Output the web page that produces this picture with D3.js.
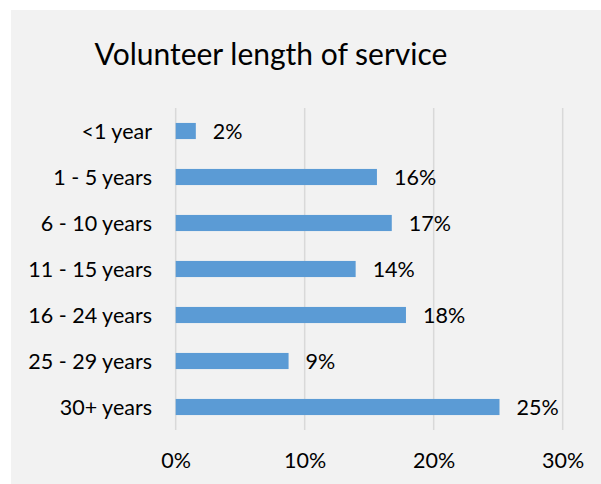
<!DOCTYPE html>
<html>
<head>
<meta charset="utf-8">
<script src="https://cdn.jsdelivr.net/npm/d3@7"></script>
<style>
  html, body { margin: 0; padding: 0; background: #ffffff; }
  svg { display: block; }
  text { font-family: Lato, "Open Sans", sans-serif; fill: #000000; }
</style>
</head>
<body>
<svg id="chart" width="601" height="484"></svg>
<script>
// Share of volunteers by length of service
const categories = ["<1 year", "1 - 5 years", "6 - 10 years", "11 - 15 years", "16 - 24 years", "25 - 29 years", "30+ years"];
const shares = [0.0156, 0.156, 0.1675, 0.1395, 0.1785, 0.0875, 0.251];
const tickValues = [0, 0.1, 0.2, 0.3];
const titleText = "Volunteer length of service";

const svg = d3.select("#chart");
const W = 601, H = 484;
const labelSize = "21.5px";

// chart panel
svg.append("rect")
  .attr("x", 11).attr("y", 10)
  .attr("width", W - 11).attr("height", H - 10)
  .attr("fill", "#f2f2f2");

const x = d3.scaleLinear().domain([0, 0.3]).range([175.7, 562.7]);
const y = d3.scaleBand().domain(categories).range([108, 430])
  .paddingInner(0.65).paddingOuter(0.325);

// vertical gridlines
svg.append("g").selectAll("line")
  .data(tickValues)
  .join("line")
  .attr("x1", d => x(d)).attr("x2", d => x(d))
  .attr("y1", 108).attr("y2", 430)
  .attr("stroke", "#d9d9d9")
  .attr("stroke-width", 1.5);

// bottom axis labels (no axis line)
const xAxis = d3.axisBottom(x)
  .tickValues(tickValues)
  .tickFormat(d3.format(".0%"))
  .tickSize(0)
  .tickPadding(0);
const gx = svg.append("g").attr("transform", "translate(0,452.5)").call(xAxis);
gx.select(".domain").remove();
gx.selectAll("text")
  .attr("dy", "0.72em")
  .attr("y", 0)
  .style("font-family", "Lato, 'Open Sans', sans-serif")
  .style("font-size", labelSize)
  .attr("fill", "#000");

// category labels
const yAxis = d3.axisLeft(y).tickSize(0).tickPadding(0);
const gy = svg.append("g").attr("transform", "translate(152,0)").call(yAxis);
gy.select(".domain").remove();
gy.selectAll("text")
  .attr("x", 0)
  .attr("dy", "0.35em")
  .style("font-family", "Lato, 'Open Sans', sans-serif")
  .style("font-size", labelSize)
  .attr("fill", "#000");

// bars
svg.append("g").selectAll("rect")
  .data(categories)
  .join("rect")
  .attr("x", x(0))
  .attr("y", d => y(d))
  .attr("width", (d, i) => x(shares[i]) - x(0))
  .attr("height", y.bandwidth())
  .attr("fill", "#5b9bd5");

// value labels
const fmt = d3.format(".0%");
svg.append("g").selectAll("text")
  .data(categories)
  .join("text")
  .attr("x", (d, i) => x(shares[i]) + 17)
  .attr("y", d => y(d) + y.bandwidth() / 2)
  .attr("dy", "0.39em")
  .style("font-size", labelSize)
  .text((d, i) => fmt(shares[i]));

// title
svg.append("text")
  .attr("x", 271)
  .attr("y", 65)
  .attr("text-anchor", "middle")
  .style("font-size", "30px")
  .text(titleText);
</script>
</body>
</html>
